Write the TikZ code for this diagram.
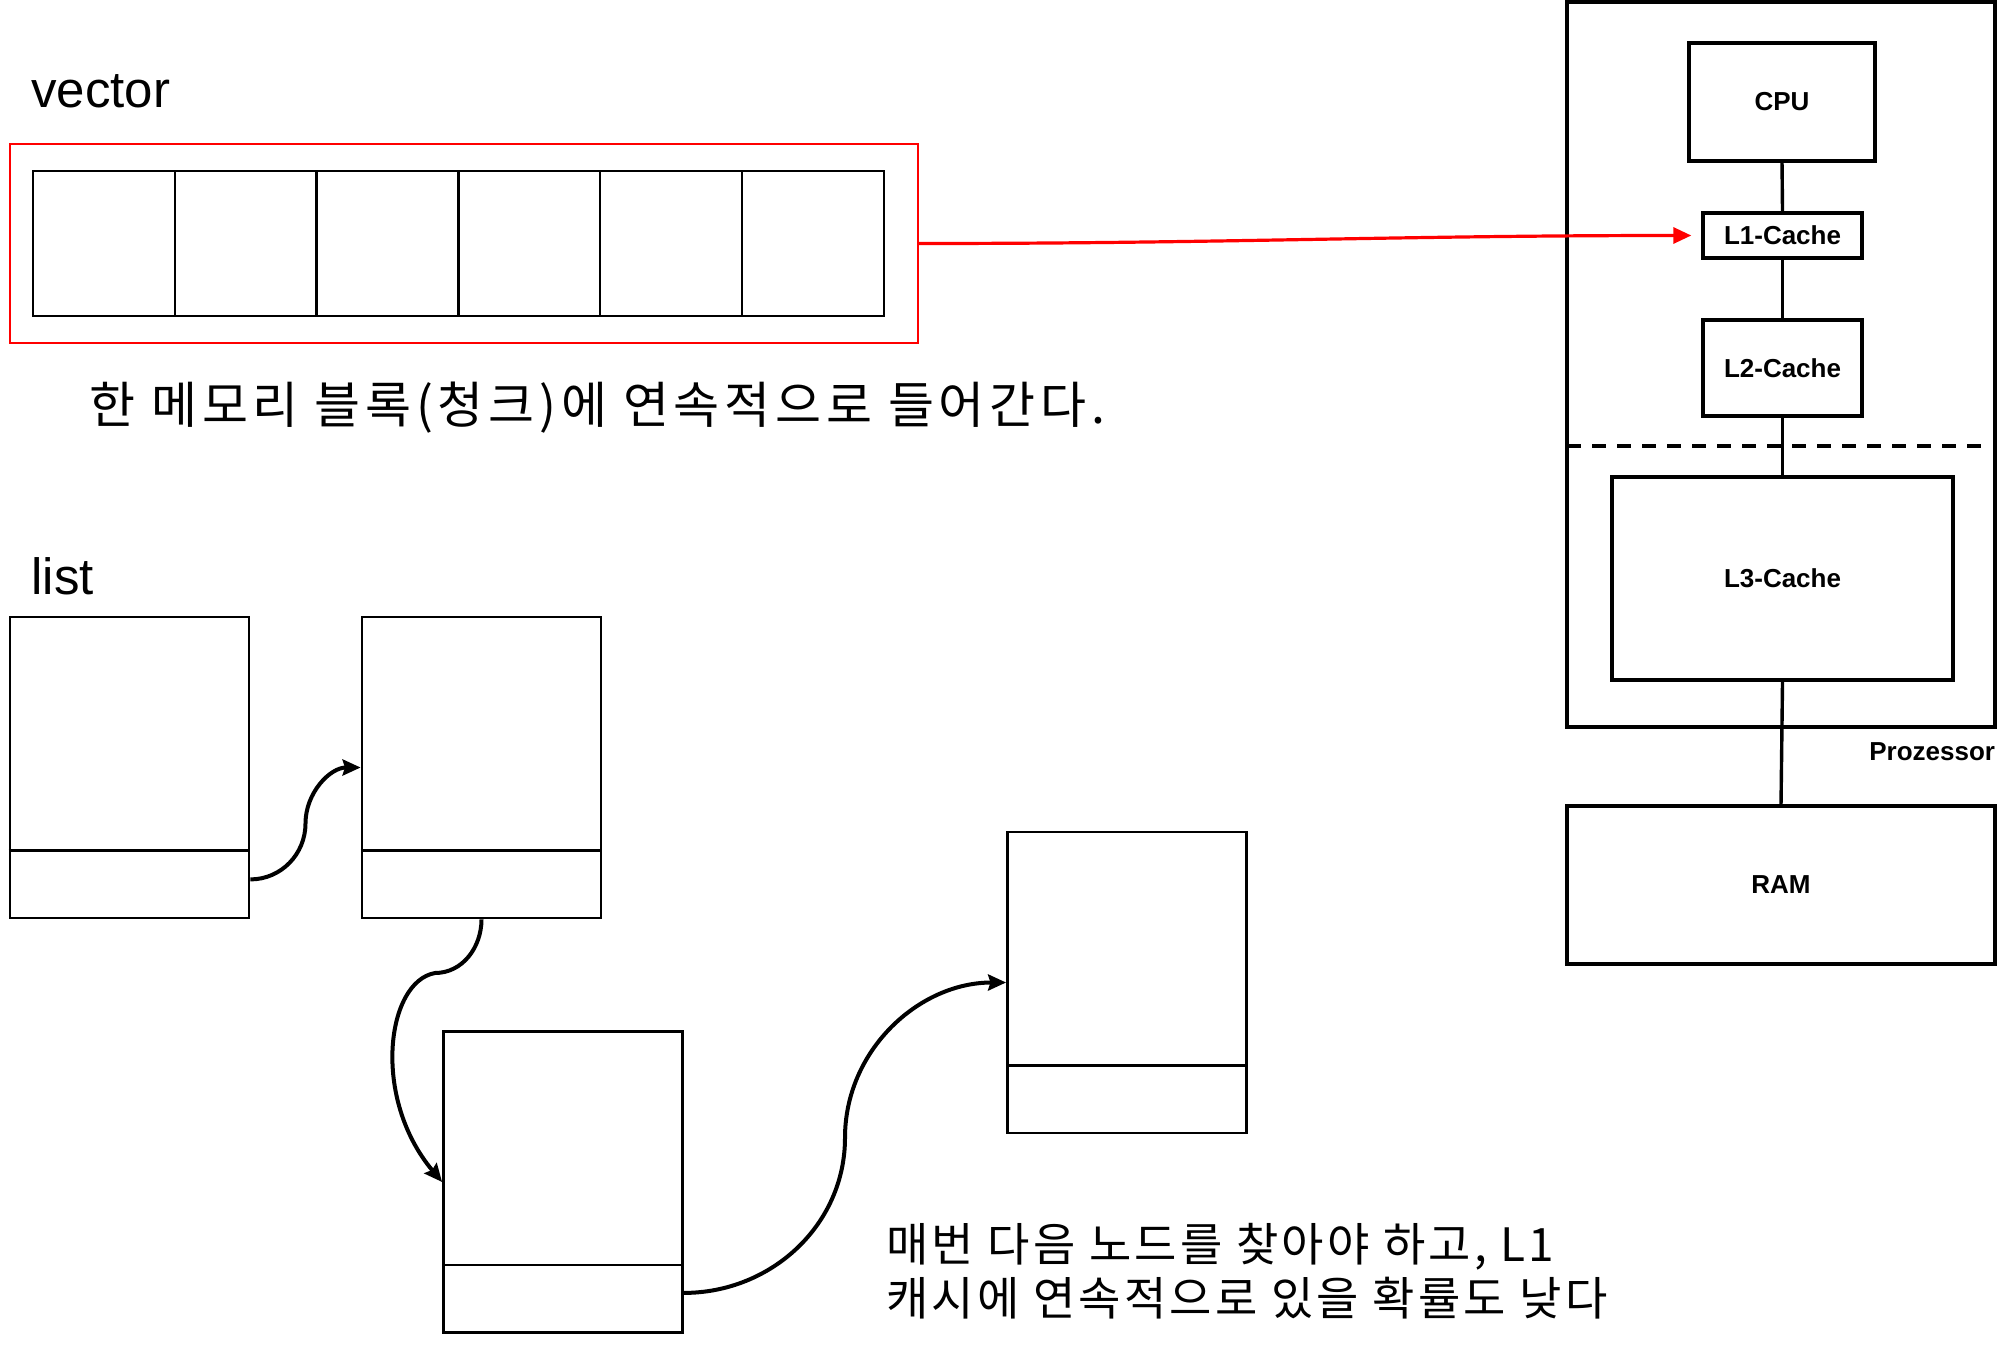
\documentclass[tikz,border=0pt]{standalone}
\usepackage{fontspec}
\setmainfont{Liberation Sans}
\newfontfamily\krfont{Noto Sans CJK KR}
\usetikzlibrary{arrows.meta,positioning,calc}

\begin{document}
\begin{tikzpicture}[
  x=0.5pt, y=0.5pt,
  title/.style={font=\fontsize{25.5}{30}\selectfont, anchor=base west, inner sep=0pt},
  note/.style={font=\krfont\addfontfeatures{LetterSpace=9.5}\fontsize{25}{30}\selectfont,
               anchor=base west, inner sep=0pt},
  notetwo/.style={font=\krfont\addfontfeatures{LetterSpace=7}\fontsize{23}{27}\selectfont,
                  anchor=north west, inner sep=0pt, align=left},
  cell/.style={rectangle, draw=black, line width=1.2pt,
               minimum width=70.9pt, minimum height=72.5pt, inner sep=0pt},
  lnode/.style={rectangle, draw=black, line width=1.4pt,
                minimum width=119.5pt, minimum height=150.5pt, inner sep=0pt},
  hw/.style={rectangle, draw=black, line width=1.7pt, inner sep=0pt,
             font=\bfseries\fontsize{13}{15}\selectfont},
  link/.style={line width=2pt, -{Stealth[length=9pt,width=8pt,inset=1.2pt]}},
  bus/.style={line width=1.7pt}
]
\useasboundingbox (0,0) rectangle (2000,-1354);

% ---- vector: one chunk ----
\node[title] (vlabel) at (31,-108) {vector};
\node[rectangle, draw=red, line width=1pt, minimum width=454pt,
      minimum height=99.5pt, inner sep=0pt] (vecbox) at (464,-243.5) {};
\foreach \i in {0,...,5} {
  \pgfmathsetmacro\xc{33 + 70.9 + \i*141.8}
  \node[cell] (c\i) at (\xc, -243.5) {};
}
\node[note] (vnote) at (89,-423) {한 메모리 블록(청크)에 연속적으로 들어간다.};

% ---- list: scattered nodes ----
\node[title] (llabel) at (31,-594) {list};
\node[lnode] (n1) at (129.5,-767.5) {};
\node[lnode] (n2) at (481.5,-767.5) {};
\node[lnode] (n3) at (563,-1182) {};
\node[lnode] (n4) at (1127,-982.5) {};
\foreach \n in {n1,n2,n3,n4}
  \draw[line width=1.4pt] ([yshift=34.5pt]\n.south west) -- ([yshift=34.5pt]\n.south east);

\coordinate (p1) at ([yshift=20pt]n1.south east);
\coordinate (m1) at ($(p1)!0.5!(n2.west)$);
\coordinate (bend) at (435,-973);
\coordinate (p3) at ([yshift=20.5pt]n3.south east);
\coordinate (m3) at ($(p3)!0.5!(n4.west)$);
\draw[link] (p1) to[out=0,in=-90] (m1) to[out=90,in=180] (n2.west);
\draw[link] (n2.south) to[out=-90,in=0] (bend)
  to[out=190,in=130,out looseness=0.6,in looseness=1.35] (n3.west);
\draw[link] (p3) to[out=0,in=-90] (m3) to[out=90,in=180] (n4.west);

\node[notetwo] (lnote) at (886,-1223)
  {매번 다음 노드를 찾아야 하고, L1\\캐시에 연속적으로 있을 확률도 낮다};

% ---- processor and memory ----
\node[hw, minimum width=214pt, minimum height=362.5pt] (proc) at (1781,-364.5) {};
\node[hw, minimum width=93pt, minimum height=59pt] (cpu) at (1782,-102) {CPU};
\node[hw, minimum width=79.5pt, minimum height=22.5pt] (l1) at (1782.5,-235.5) {L1-Cache};
\node[hw, minimum width=79.5pt, minimum height=48pt] (l2) at (1782.5,-368) {L2-Cache};
\node[hw, minimum width=170.5pt, minimum height=101.5pt] (l3) at (1782.5,-578.5) {L3-Cache};
\node[hw, minimum width=214pt, minimum height=79pt] (ram) at (1781,-885) {RAM};
\node[hw, draw=none, anchor=north east] (plabel) at ([yshift=-6pt]proc.south east) {Prozessor};

\coordinate (cut) at (1781,-446);
\draw[bus, dash pattern=on 7pt off 5.5pt] ([xshift=1pt]proc.west |- cut) -- ([xshift=-3pt]proc.east |- cut);

\draw[bus] (cpu.south) -- (l1.north);
\draw[bus] (l1.south) -- (l2.north);
\draw[bus] (l2.south) -- (l3.north);
\draw[bus] (l3.south) -- (ram.north);

% ---- vector hits L1 ----
\draw[red, line width=1.6pt, -{Triangle[length=9pt,width=8pt]}, shorten >=5pt]
  (vecbox.east) to[out=0,in=180] (l1.west);

\end{tikzpicture}
\end{document}
